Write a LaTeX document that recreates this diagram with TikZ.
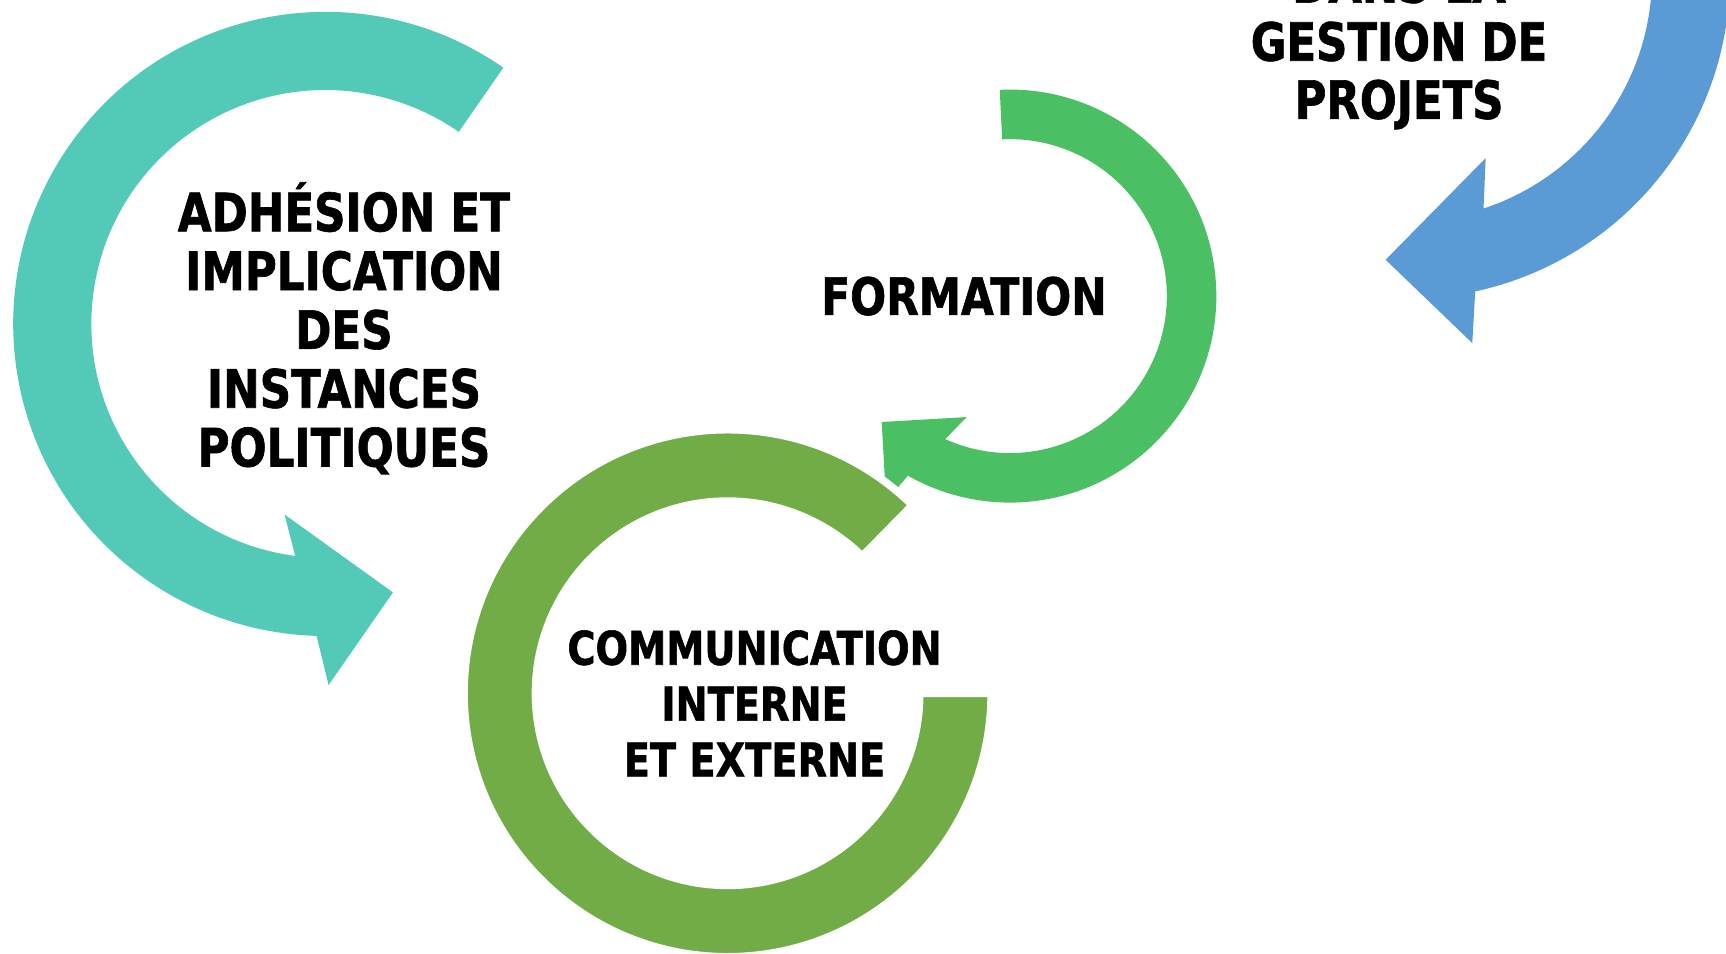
\documentclass[tikz,border=0pt]{standalone}
\usepackage{fontspec}
\usetikzlibrary{calc}
\newfontfamily\dinfont{DejaVu Sans}[FakeStretch=0.825, FakeBold=1.2]
\newcommand\dinsz[2]{\dinfont\bfseries\fontsize{#1}{#2}\selectfont}
\definecolor{tealarc}{RGB}{83,202,183}
\definecolor{formgreen}{RGB}{75,191,99}
\definecolor{olivearc}{RGB}{113,172,71}
\definecolor{bluearc}{RGB}{91,155,213}
\begin{document}
\begin{tikzpicture}[x=0.01cm,y=0.01cm,
  lbl/.style={align=center, anchor=base, inner sep=0pt, text=black}]
\useasboundingbox (0,0) rectangle (1568,865.8);
\fill[white] (0,0) rectangle (1568,865.8);
\clip (0,0) rectangle (1568,865.8);

% teal arc (ADHESION)
\coordinate (cT) at (295.5,571.5);
\fill[tealarc] ($(cT)+(55.2:283.5)$) arc[start angle=55.2,end angle=268.4,radius=283.5]
  -- (298.5,243.4) -- (357,327.6) -- (258.5,398.4) -- (269,357.6)
  -- ($(cT)+(262.9:212.5)$) arc[start angle=262.9,end angle=55.2,radius=212.5] -- cycle;

% blue arc (gestion de projets)
\coordinate (cB) at (1278.2,887.8);
\fill[bluearc] ($(cB)+(30:293.4)$) arc[start angle=30,end angle=-77.8,radius=293.4]
  -- (1337.5,554.1) -- (1258.8,629.8) -- (1349.7,722.2)
  -- ($(cB)+(-71.8:222.6)$) arc[start angle=-71.8,end angle=30,radius=222.6] -- cycle;

% green arc (FORMATION)
\coordinate (cF) at (917.4,596.8);
\fill[formgreen] ($(cF)+(92.8:187.6)$) arc[start angle=92.8,end angle=-119.6,radius=187.6]
  -- (805,410) -- (801,482.4) -- (878.2,486.9)
  -- ($(cF)+(-114.3:142.6)$) arc[start angle=-114.3,end angle=92.8,radius=142.6] -- cycle;

% olive arc (COMMUNICATION)
\coordinate (cC) at (661,236);
\filldraw[fill=olivearc, draw=white, line width=0.07cm]
  ($(cC)+(45.5:239.5)$) arc[start angle=45.5,end angle=360,radius=239.5]
  -- ($(cC)+(0:174.5)$) arc[start angle=360,end angle=45.5,radius=174.5] -- cycle;

% labels (base anchor = baseline of the last line)
\node[lbl, font=\dinsz{13.66}{15.19}] (adhesion) at (312.5,442)
  {ADHÉSION ET\\IMPLICATION\\DES\\INSTANCES\\POLITIQUES};
\node[lbl, font=\dinsz{13.27}{15.19}] (formation) at (875.7,579.8) {FORMATION};
\node[lbl, font=\dinsz{13.6}{15.0}] (gestion) at (1271,757.9)
  {DANS LA\\GESTION DE\\PROJETS};
\node[lbl, font=\dinsz{12}{14.43}] (comm) at (685.5,160.4)
  {COMMUNICATION\\INTERNE\\ET EXTERNE};
\end{tikzpicture}
\end{document}
